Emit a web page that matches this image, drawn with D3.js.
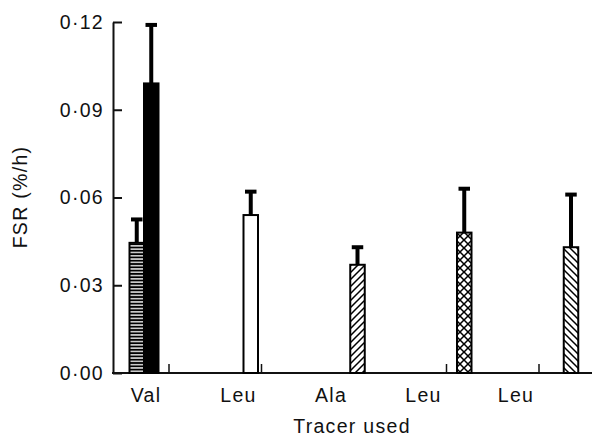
<!DOCTYPE html>
<html lang="en">
<head>
  <meta charset="UTF-8">
  <title>FSR by tracer</title>
  <script src="https://d3js.org/d3.v7.min.js"></script>
  <style>
    body { margin: 0; background: #fff; }
    text { font-family: "Liberation Sans", Arial, sans-serif; fill: #111; }
  </style>
</head>
<body>
  <svg id="chart" width="599" height="441"></svg>
  <script>
    // Tracer labels along the x axis (keys, shown text)
    const tracerKeys = ["t1", "t2", "t3", "t4", "t5"];
    const tracerNames = ["Val", "Leu", "Ala", "Leu", "Leu"];

    // Bars: group (tracer slot), pattern and values
    const barGroup = ["t1", "t1", "t2", "t3", "t4", "t5"];
    const barSub = ["a", "b", "c", "c", "c", "c"];
    const barFill = ["hstripe", "solid", "open", "diagUp", "cross", "diagDown"];
    const fsrMean = [0.0445, 0.099, 0.054, 0.037, 0.048, 0.043];
    const fsrSD = [0.008, 0.020, 0.008, 0.006, 0.015, 0.018];

    const yTicks = [0, 0.03, 0.06, 0.09, 0.12];

    const svg = d3.select("#chart");
    const fmt = d => d3.format(".2f")(d).replace(".", "\u00B7");
    const fontSize = 19.5, spacing = 1.3;

    // Patterns
    const defs = svg.append("defs");
    const hs = defs.append("pattern").attr("id", "hstripe")
      .attr("patternUnits", "userSpaceOnUse").attr("width", 6).attr("height", 3.3);
    hs.append("rect").attr("width", 6).attr("height", 3.3).attr("fill", "#000");
    hs.append("rect").attr("y", 1).attr("width", 6).attr("height", 1.3).attr("fill", "#fff");

    function diag(id, dirs, size) {
      const p = defs.append("pattern").attr("id", id)
        .attr("patternUnits", "userSpaceOnUse").attr("width", size).attr("height", size);
      p.append("rect").attr("width", size).attr("height", size).attr("fill", "#fff");
      dirs.forEach(dir => {
        const d = dir === "up"
          ? `M0,${size} L${size},0 M${-size / 2},${size / 2} L${size / 2},${-size / 2} M${size / 2},${size * 1.5} L${size * 1.5},${size / 2}`
          : `M0,0 L${size},${size} M${-size / 2},${size / 2} L${size / 2},${size * 1.5} M${size / 2},${-size / 2} L${size * 1.5},${size / 2}`;
        p.append("path").attr("d", d).attr("stroke", "#000").attr("stroke-width", 1.5);
      });
    }
    diag("diagUp", ["up"], 7);
    diag("diagDown", ["down"], 7);
    diag("cross", ["up", "down"], 8);

    const fillFor = {
      hstripe: "url(#hstripe)", solid: "#000", open: "#fff",
      diagUp: "url(#diagUp)", diagDown: "url(#diagDown)", cross: "url(#cross)"
    };

    // Scales
    const y = d3.scaleLinear().domain([0, 0.12]).range([373, 22]);
    const xLabel = d3.scalePoint().domain(tracerKeys).range([146, 516]);
    const xBar = d3.scalePoint().domain(tracerKeys).range([144, 571]);
    const bw = 14.5;
    const xSub = d3.scaleOrdinal().domain(["a", "b", "c"]).range([-bw, 0, -bw / 2]);

    // Y axis (ticks pointing inward)
    const yAxis = svg.append("g")
      .attr("transform", "translate(113,0)")
      .call(d3.axisLeft(y).tickValues(yTicks).tickFormat(fmt)
        .tickSizeInner(-9).tickSizeOuter(0).tickPadding(9));
    yAxis.selectAll("path, line").attr("stroke", "#111").attr("stroke-width", 2);
    yAxis.selectAll("text").attr("font-size", fontSize).attr("letter-spacing", spacing)
      .style("font-family", "'Liberation Sans', Arial, sans-serif").attr("fill", "#111");

    // X axis line and small upward ticks
    const xAxis = svg.append("g");
    xAxis.append("line")
      .attr("x1", 112).attr("x2", 592).attr("y1", y(0)).attr("y2", y(0))
      .attr("stroke", "#111").attr("stroke-width", 2);
    xAxis.selectAll(".xtick").data(tracerKeys).enter().append("line")
      .attr("class", "xtick")
      .attr("x1", d => xLabel(d) + 23).attr("x2", d => xLabel(d) + 23)
      .attr("y1", y(0)).attr("y2", y(0) - 9)
      .attr("stroke", "#111").attr("stroke-width", 1.5);
    xAxis.selectAll(".xlab").data(tracerKeys).enter().append("text")
      .attr("class", "xlab")
      .attr("x", d => xLabel(d)).attr("y", 402)
      .attr("text-anchor", "middle").attr("font-size", fontSize).attr("letter-spacing", spacing)
      .text((d, i) => tracerNames[i]);

    // Bars
    const bars = fsrMean.map((m, i) => ({
      x: xBar(barGroup[i]) + xSub(barSub[i]),
      mean: m, sd: fsrSD[i], fill: barFill[i]
    }));

    // Error bars (upper only)
    const eb = svg.append("g");
    eb.selectAll(".stem").data(bars).enter().append("line")
      .attr("x1", d => d.x + bw / 2).attr("x2", d => d.x + bw / 2)
      .attr("y1", d => y(d.mean)).attr("y2", d => y(d.mean + d.sd))
      .attr("stroke", "#000").attr("stroke-width", 4);
    eb.selectAll(".cap").data(bars).enter().append("line")
      .attr("x1", d => d.x + 1.5).attr("x2", d => d.x + bw - 1.5)
      .attr("y1", d => y(d.mean + d.sd)).attr("y2", d => y(d.mean + d.sd))
      .attr("stroke", "#000").attr("stroke-width", 4);

    svg.append("g").selectAll("rect").data(bars).enter().append("rect")
      .attr("x", d => d.x).attr("width", bw)
      .attr("y", d => y(d.mean)).attr("height", d => y(0) - y(d.mean))
      .attr("fill", d => fillFor[d.fill])
      .attr("stroke", "#000").attr("stroke-width", 2);

    // Axis titles
    svg.append("text")
      .attr("transform", "translate(27,197) rotate(-90)")
      .attr("text-anchor", "middle").attr("font-size", fontSize).attr("letter-spacing", spacing)
      .text("FSR (%/h)");
    svg.append("text")
      .attr("x", 352).attr("y", 433)
      .attr("text-anchor", "middle").attr("font-size", fontSize).attr("letter-spacing", spacing)
      .text("Tracer used");
  </script>
</body>
</html>
